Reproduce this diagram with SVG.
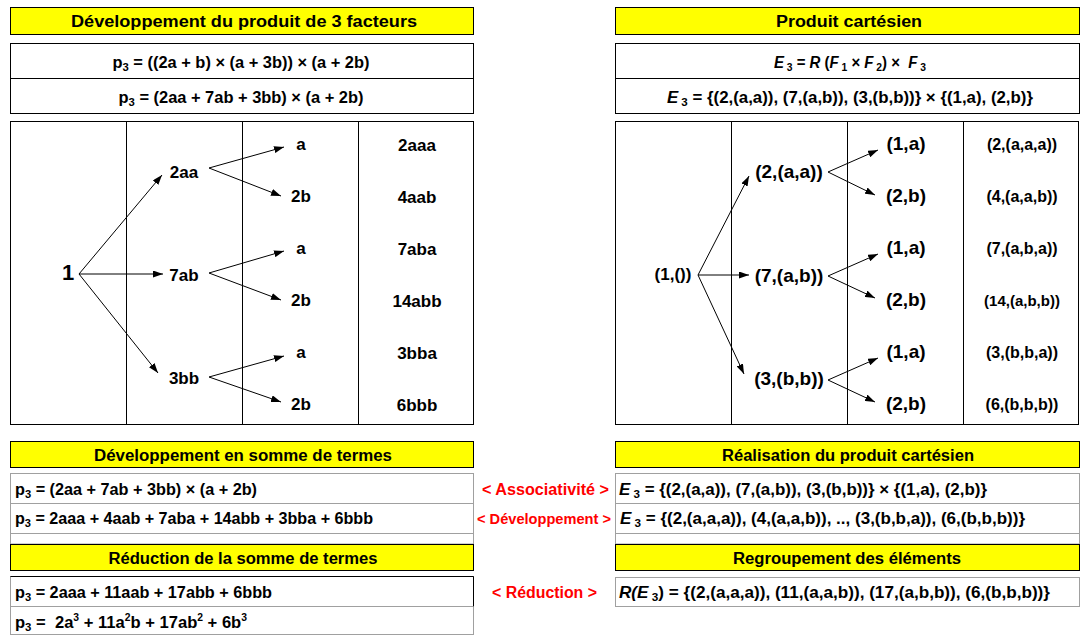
<svg xmlns="http://www.w3.org/2000/svg" width="1091" height="643" viewBox="0 0 1091 643">
<style>
.hdr{fill:#FFFF00;stroke:#000;stroke-width:1}
.box{fill:#fff;stroke:#000;stroke-width:1}
.gbox{fill:#fff;stroke:#A0A0A0;stroke-width:1}
.ln{stroke:#000;stroke-width:1}
.gln{stroke:#A0A0A0;stroke-width:1}
text{font-family:"Liberation Sans",Arial,sans-serif;font-weight:bold;fill:#000}
.h{font-size:16px;text-anchor:middle}
.f{font-size:16px}
.c{text-anchor:middle}
.n{font-size:17px;text-anchor:middle}
.red{fill:#FF0000;font-size:16px;text-anchor:middle}
.it{font-style:italic}
.sb{font-size:11px}
.conn line{stroke:#000;stroke-width:1;marker-end:url(#ah)}
</style>
<defs>
<marker id="ah" viewBox="0 0 10 7" markerWidth="10" markerHeight="7" refX="10" refY="3.5" orient="auto" markerUnits="userSpaceOnUse">
<path d="M0,0 L10,3.5 L0,7 z" fill="#000"/>
</marker>
</defs>
<rect width="1091" height="643" fill="#fff"/>

<!-- Top left -->
<g id="hdr-dev3">
<rect class="hdr" x="10.5" y="7.5" width="463" height="27"/>
<text class="h" x="244" y="27" textLength="346" lengthAdjust="spacingAndGlyphs">Développement du produit de 3 facteurs</text>
</g>
<g id="formula-left">
<rect class="box" x="10.5" y="43.5" width="463" height="70"/>
<line class="ln" x1="10.5" y1="78.5" x2="473.5" y2="78.5"/>
<text class="f c" x="241" y="68" textLength="257" lengthAdjust="spacingAndGlyphs">p<tspan class="sb" dy="3">3</tspan><tspan dy="-3"> = ((2a + b) × (a + 3b)) × (a + 2b)</tspan></text>
<text class="f c" x="241" y="103" textLength="245" lengthAdjust="spacingAndGlyphs">p<tspan class="sb" dy="3">3</tspan><tspan dy="-3"> = (2aa + 7ab + 3bb) × (a + 2b)</tspan></text>
</g>

<!-- Top right -->
<g id="hdr-cart">
<rect class="hdr" x="615.5" y="7.5" width="464" height="27"/>
<text class="h" x="849" y="27" textLength="146" lengthAdjust="spacingAndGlyphs">Produit cartésien</text>
</g>
<g id="formula-right">
<rect class="box" x="615.5" y="43.5" width="464" height="70"/>
<line class="ln" x1="615.5" y1="78.5" x2="1079.5" y2="78.5"/>
<text class="f c" x="850" y="68" xml:space="preserve" textLength="152" lengthAdjust="spacingAndGlyphs"><tspan class="it">E</tspan><tspan class="sb" dx="3" dy="3">3</tspan><tspan dy="-3"> = </tspan><tspan class="it">R</tspan> (<tspan class="it">F</tspan><tspan class="sb" dx="3" dy="3">1</tspan><tspan dy="-3"> × </tspan><tspan class="it">F</tspan><tspan class="sb" dx="3" dy="3">2</tspan><tspan dy="-3">) ×  </tspan><tspan class="it">F</tspan><tspan class="sb" dx="3" dy="3">3</tspan></text>
<text class="f c" x="850" y="103" textLength="366" lengthAdjust="spacingAndGlyphs"><tspan class="it">E</tspan><tspan class="sb" dx="3" dy="3">3</tspan><tspan dy="-3"> = {(2,(a,a)), (7,(a,b)), (3,(b,b))} × {(1,a), (2,b)}</tspan></text>
</g>

<!-- Left tree -->
<g id="tree-left-frame">
<rect class="box" x="10.5" y="121.5" width="463" height="303"/>
<line class="ln" x1="126.5" y1="121.5" x2="126.5" y2="424.5"/>
<line class="ln" x1="242.5" y1="121.5" x2="242.5" y2="424.5"/>
<line class="ln" x1="358.5" y1="121.5" x2="358.5" y2="424.5"/>
</g>
<g id="L-root"><text class="n" x="68" y="280" style="font-size:22px">1</text></g>
<g id="L-2aa"><text class="n" x="184" y="178">2aa</text></g>
<g id="L-7ab"><text class="n" x="184" y="281">7ab</text></g>
<g id="L-3bb"><text class="n" x="184" y="384">3bb</text></g>
<g id="L-a1"><text class="n" x="301" y="150">a</text></g>
<g id="L-2b1"><text class="n" x="301" y="202">2b</text></g>
<g id="L-a2"><text class="n" x="301" y="254">a</text></g>
<g id="L-2b2"><text class="n" x="301" y="306">2b</text></g>
<g id="L-a3"><text class="n" x="301" y="358">a</text></g>
<g id="L-2b3"><text class="n" x="301" y="410">2b</text></g>
<g id="L-r1"><text class="n" x="417" y="151">2aaa</text></g>
<g id="L-r2"><text class="n" x="417" y="203">4aab</text></g>
<g id="L-r3"><text class="n" x="417" y="255">7aba</text></g>
<g id="L-r4"><text class="n" x="417" y="307">14abb</text></g>
<g id="L-r5"><text class="n" x="417" y="359">3bba</text></g>
<g id="L-r6"><text class="n" x="417" y="411">6bbb</text></g>

<!-- Right tree -->
<g id="tree-right-frame">
<rect class="box" x="615.5" y="121.5" width="463" height="303"/>
<line class="ln" x1="731.5" y1="121.5" x2="731.5" y2="424.5"/>
<line class="ln" x1="847.5" y1="121.5" x2="847.5" y2="424.5"/>
<line class="ln" x1="963.5" y1="121.5" x2="963.5" y2="424.5"/>
</g>
<g id="R-root"><text class="n" x="673" y="280">(1,())</text></g>
<g id="R-2aa"><text class="n" x="789" y="178" style="font-size:19px">(2,(a,a))</text></g>
<g id="R-7ab"><text class="n" x="789" y="282" style="font-size:19px">(7,(a,b))</text></g>
<g id="R-3bb"><text class="n" x="789" y="385" style="font-size:19px">(3,(b,b))</text></g>
<g id="R-a1"><text class="n" x="906" y="150" style="font-size:19px">(1,a)</text></g>
<g id="R-2b1"><text class="n" x="906" y="202" style="font-size:19px">(2,b)</text></g>
<g id="R-a2"><text class="n" x="906" y="254" style="font-size:19px">(1,a)</text></g>
<g id="R-2b2"><text class="n" x="906" y="306" style="font-size:19px">(2,b)</text></g>
<g id="R-a3"><text class="n" x="906" y="358" style="font-size:19px">(1,a)</text></g>
<g id="R-2b3"><text class="n" x="906" y="410" style="font-size:19px">(2,b)</text></g>
<g id="R-r1"><text class="n" x="1022" y="150" style="font-size:16px">(2,(a,a,a))</text></g>
<g id="R-r2"><text class="n" x="1022" y="202" style="font-size:16px">(4,(a,a,b))</text></g>
<g id="R-r3"><text class="n" x="1022" y="254" style="font-size:16px">(7,(a,b,a))</text></g>
<g id="R-r4"><text class="n" x="1022" y="306" style="font-size:15px">(14,(a,b,b))</text></g>
<g id="R-r5"><text class="n" x="1022" y="358" style="font-size:16px">(3,(b,b,a))</text></g>
<g id="R-r6"><text class="n" x="1022" y="410" style="font-size:16px">(6,(b,b,b))</text></g>

<!-- Connectors -->
<g id="connectors" class="conn">
<line x1="79" y1="274" x2="162" y2="175"/>
<line x1="79" y1="274" x2="163" y2="274"/>
<line x1="79" y1="274" x2="158" y2="373"/>
<line x1="209" y1="168" x2="284" y2="147"/>
<line x1="209" y1="168" x2="281" y2="196"/>
<line x1="209" y1="273" x2="284" y2="251"/>
<line x1="209" y1="273" x2="281" y2="300"/>
<line x1="209" y1="377" x2="284" y2="356"/>
<line x1="209" y1="377" x2="281" y2="402"/>
<line x1="698" y1="275" x2="749" y2="176"/>
<line x1="698" y1="275" x2="749" y2="275"/>
<line x1="698" y1="275" x2="744" y2="374"/>
<line x1="828" y1="172" x2="878" y2="150"/>
<line x1="828" y1="172" x2="875" y2="195"/>
<line x1="828" y1="276" x2="878" y2="254"/>
<line x1="828" y1="276" x2="875" y2="298"/>
<line x1="828" y1="380" x2="878" y2="358"/>
<line x1="828" y1="380" x2="875" y2="402"/>
</g>

<!-- Bottom left -->
<g id="hdr-somme">
<rect class="hdr" x="10.5" y="441.5" width="463" height="26"/>
<text class="h" x="243" y="461" textLength="298" lengthAdjust="spacingAndGlyphs">Développement en somme de termes</text>
</g>
<g id="rows-somme">
<rect class="gbox" x="10.5" y="473.5" width="463" height="70.5"/>
<line class="gln" x1="10.5" y1="503.5" x2="473.5" y2="503.5"/>
<line class="gln" x1="10.5" y1="533.5" x2="473.5" y2="533.5"/>
<text class="f" x="15" y="495" textLength="242" lengthAdjust="spacingAndGlyphs">p<tspan class="sb" dy="3">3</tspan><tspan dy="-3"> = (2aa + 7ab + 3bb) × (a + 2b)</tspan></text>
<text class="f" x="15" y="524" textLength="358" lengthAdjust="spacingAndGlyphs">p<tspan class="sb" dy="3">3</tspan><tspan dy="-3"> = 2aaa + 4aab + 7aba + 14abb + 3bba + 6bbb</tspan></text>
</g>
<g id="hdr-reduction">
<rect class="hdr" x="10.5" y="544.5" width="463" height="26"/>
<text class="h" x="243" y="564" textLength="269" lengthAdjust="spacingAndGlyphs">Réduction de la somme de termes</text>
</g>
<g id="rows-reduction">
<rect class="gbox" x="10.5" y="576.5" width="463" height="58"/>
<line class="ln" x1="10.5" y1="576.5" x2="473.5" y2="576.5"/>
<line class="ln" x1="473.5" y1="576.5" x2="473.5" y2="606.5"/>
<line class="gln" x1="10.5" y1="606.5" x2="473.5" y2="606.5"/>
<text class="f" x="15" y="598" textLength="257" lengthAdjust="spacingAndGlyphs">p<tspan class="sb" dy="3">3</tspan><tspan dy="-3"> = 2aaa + 11aab + 17abb + 6bbb</tspan></text>
<text class="f" x="15" y="628" xml:space="preserve" textLength="232" lengthAdjust="spacingAndGlyphs">p<tspan class="sb" dy="3">3</tspan><tspan dy="-3"> =  2a</tspan><tspan style="font-size:10px" dy="-7">3</tspan><tspan dy="7"> + 11a</tspan><tspan style="font-size:10px" dy="-7">2</tspan><tspan dy="7">b + 17ab</tspan><tspan style="font-size:10px" dy="-7">2</tspan><tspan dy="7"> + 6b</tspan><tspan style="font-size:10px" dy="-7">3</tspan></text>
</g>

<!-- Middle labels -->
<g id="lbl-assoc"><text class="red" x="545.5" y="495" textLength="127" lengthAdjust="spacingAndGlyphs">&lt; Associativité &gt;</text></g>
<g id="lbl-dev"><text class="red" x="544" y="524" style="font-size:15px" textLength="134" lengthAdjust="spacingAndGlyphs">&lt; Développement &gt;</text></g>
<g id="lbl-red"><text class="red" x="544.5" y="598" textLength="105" lengthAdjust="spacingAndGlyphs">&lt; Réduction &gt;</text></g>

<!-- Bottom right -->
<g id="hdr-realisation">
<rect class="hdr" x="615.5" y="441.5" width="464" height="26"/>
<text class="h" x="848" y="461" textLength="252" lengthAdjust="spacingAndGlyphs">Réalisation du produit cartésien</text>
</g>
<g id="rows-realisation">
<rect class="gbox" x="615.5" y="473.5" width="464" height="70.5"/>
<line class="gln" x1="615.5" y1="503.5" x2="1079.5" y2="503.5"/>
<line class="gln" x1="615.5" y1="533.5" x2="1079.5" y2="533.5"/>
<text class="f" x="619" y="495" textLength="368" lengthAdjust="spacingAndGlyphs"><tspan class="it">E</tspan><tspan class="sb" dx="3" dy="3">3</tspan><tspan dy="-3"> = {(2,(a,a)), (7,(a,b)), (3,(b,b))} × {(1,a), (2,b)}</tspan></text>
<text class="f" x="620" y="524" textLength="405" lengthAdjust="spacingAndGlyphs"><tspan class="it">E</tspan><tspan class="sb" dx="3" dy="3">3</tspan><tspan dy="-3"> = {(2,(a,a,a)), (4,(a,a,b)), .., (3,(b,b,a)), (6,(b,b,b))}</tspan></text>
</g>
<g id="hdr-regroupement">
<rect class="hdr" x="615.5" y="544.5" width="464" height="26"/>
<text class="h" x="847" y="564" textLength="228" lengthAdjust="spacingAndGlyphs">Regroupement des éléments</text>
</g>
<g id="row-regroupement">
<rect class="gbox" x="615.5" y="577.5" width="464" height="29"/>
<text class="f" x="619" y="598" textLength="431" lengthAdjust="spacingAndGlyphs"><tspan class="it">R(E</tspan><tspan class="sb" dx="3" dy="3">3</tspan><tspan dy="-3">) = {(2,(a,a,a)), (11,(a,a,b)), (17,(a,b,b)), (6,(b,b,b))}</tspan></text>
</g>
</svg>
